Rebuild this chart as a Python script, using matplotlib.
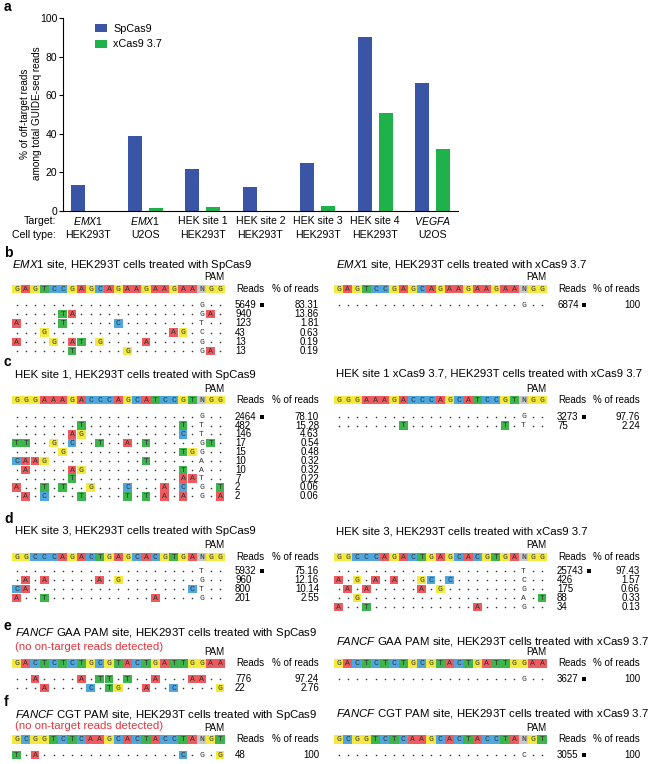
import numpy as np
import matplotlib
matplotlib.use("Agg")
from matplotlib import pyplot as plt
from matplotlib.patches import Rectangle
from matplotlib.transforms import blended_transform_factory

plt.rcParams['font.family'] = ['Liberation Sans', 'DejaVu Sans']
plt.rcParams['mathtext.fontset'] = 'custom'
plt.rcParams['mathtext.rm'] = 'Liberation Sans'
plt.rcParams['mathtext.it'] = 'Liberation Sans:italic'

# ---- panel a data ----
targets = ['$\\mathit{EMX1}$', '$\\mathit{EMX1}$', 'HEK site 1', 'HEK site 2',
           'HEK site 3', 'HEK site 4', '$\\mathit{VEGFA}$']
cell_types = ['HEK293T', 'U2OS', 'HEK293T', 'HEK293T', 'HEK293T', 'HEK293T', 'U2OS']
spcas9 = [13.5, 39.1, 21.8, 12.3, 24.7, 90.1, 66.4]
xcas9 = [0.0, 1.4, 2.1, 0.0, 2.4, 50.9, 32.0]

# ---- panels b-f data ('.' = match, lowercase = base shown without box) ----
emx1_ref = "GAGTCCGAGCAGAAGAAGAANGG"
emx1_sp_rows = ["....................g..",
                ".....TA.............gA.",
                "A....T.....C........t..",
                "...G.............AG.c..",
                "A...G.AT.G....A.....g..",
                "......T.....G.......gA."]
emx1_sp_reads = [5649, 940, 123, 43, 13, 13]
emx1_sp_pct = ['83.31', '13.86', '1.81', '0.63', '0.19', '0.19']
emx1_x_rows = ["....................g.."]
emx1_x_reads = [6874]
emx1_x_pct = ['100']

hek1_ref = "GGGAAAGACCCAGCATCCGTNGG"
hek1_sp_rows = ["....................g..",
                ".......T..........T.t..",
                "......AG..........C.t..",
                "TT..G.C..T..A.T.....gT.",
                ".....G............TGg..",
                "CAAG..........T.....a..",
                ".A....AG..........T.a..",
                "......T...........AAt..",
                "A..T.T..G...C...A.C.g.T",
                ".A.C...T....T.T.A.A.g.A"]
hek1_sp_reads = [2464, 482, 146, 17, 15, 10, 10, 7, 2, 2]
hek1_sp_pct = ['78.10', '15.28', '4.63', '0.54', '0.48', '0.32', '0.32', '0.22', '0.06', '0.06']
hek1_x_rows = ["....................g..",
               ".......T..........T.t.."]
hek1_x_reads = [3273, 75]
hek1_x_pct = ['97.76', '2.24']

hek3_ref = "GGCCCAGACTGAGCACGTGANGG"
hek3_sp_rows = ["....................t..",
                ".A.A.....A.G........g..",
                "CA.................Ct..",
                "A..T...........A....g.."]
hek3_sp_reads = [5932, 960, 800, 201]
hek3_sp_pct = ['75.16', '12.16', '10.14', '2.55']
hek3_x_rows = ["....................t..",
               "A.G.A.A..GC.C.......c..",
               ".A.A.....A.G........g..",
               "..G.................a.T",
               "A..T...........A....g.."]
hek3_x_reads = [25743, 426, 175, 88, 34]
hek3_x_pct = ['97.43', '1.57', '0.66', '0.33', '0.13']

fgaa_ref = "GACTCTCTGCGTACTGATTGGAA"
fgaa_sp_rows = ["..A....A.TT.T..A...AA..",
                "...A....C.TG..A..C....G"]
fgaa_sp_reads = [776, 22]
fgaa_sp_pct = ['97.24', '2.76']
fgaa_x_rows = ["....................g.."]
fgaa_x_reads = [3627]
fgaa_x_pct = ['100']

fcgt_ref = "GCGGTCTCAAGCACTACCTANGT"
fcgt_sp_rows = ["T.A...............C.g.G"]
fcgt_sp_reads = [48]
fcgt_sp_pct = ['100']
fcgt_x_rows = ["....................c.."]
fcgt_x_reads = [3055]
fcgt_x_pct = ['100']

base_colors = {'A': '#ef5a5f', 'C': '#4fa7df', 'G': '#f4ea3e', 'T': '#3cb54b', 'N': '#c8c8c8'}
red_note = '#e8343e'

W, H = 654, 764
fig = plt.figure(figsize=(W / 100, H / 100), dpi=100)

# ---- panel a ----
ax = fig.add_axes([63.4 / W, 1 - 211 / H, (458.4 - 63.4) / W, (211 - 18.3) / H])
x = np.arange(len(spcas9))
b1 = ax.bar(x - 0.183, spcas9, width=0.245, color='#3a55a6', label='SpCas9')
b2 = ax.bar(x + 0.183, xcas9, width=0.245, color='#1fb24a', label='xCas9 3.7')
ax.set_xlim(-0.43, 6.45)
ax.set_ylim(0, 100)
ax.set_yticks([0, 20, 40, 60, 80, 100])
ax.set_xticks([])
ax.spines['top'].set_visible(False)
ax.spines['right'].set_visible(False)
ax.spines['left'].set_linewidth(0.8)
ax.spines['bottom'].set_linewidth(0.8)
ax.tick_params(axis='y', labelsize=7.5, length=3, width=0.8, pad=1.5)
ax.legend(handles=[b1, b2], loc='upper left', bbox_to_anchor=(95 / W, 1 - 24 / H),
          bbox_transform=fig.transFigure, frameon=False, fontsize=7.8,
          handlelength=1.1, handleheight=0.75, handletextpad=0.6,
          labelspacing=0.5, borderpad=0, borderaxespad=0)
tr = blended_transform_factory(ax.transData, ax.transAxes)
for i in range(len(targets)):
    ax.text(i, -0.0535, targets[i], transform=tr, ha='center', va='center', fontsize=7.6)
    ax.text(i, -0.1245, cell_types[i], transform=tr, ha='center', va='center', fontsize=7.6)

# overlay in pixel units for text and alignments
ov = fig.add_axes([0, 0, 1, 1])
ov.set_xlim(0, W)
ov.set_ylim(H, 0)
ov.axis('off')

ov.text(55.8, 221.3, 'Target:', ha='right', va='center', fontsize=7.6)
ov.text(55.8, 235, 'Cell type:', ha='right', va='center', fontsize=7.6)
ov.text(31, 113.5, '% of off-target reads\namong total GUIDE-seq reads', rotation=90,
        ha='center', va='center', fontsize=7.2, multialignment='center', linespacing=1.2)

for letter, ly in zip('abcdef', [7, 253, 362, 519, 626, 702]):
    ov.text(4, ly, letter, fontsize=10, fontweight='bold', ha='left', va='center')

col_w = 9.25
mono = 'Liberation Mono'


def draw_alignment(x0, ref_y, row_y, step, ref, rows, reads, pct, on_target, num_x, pct_x):
    xs = x0 + np.arange(len(ref)) * col_w
    for xb, b in zip(xs, ref):
        ov.add_patch(Rectangle((xb - col_w / 2, ref_y - 4.4), col_w, 8.8,
                               facecolor=base_colors[b], edgecolor='none'))
        ov.text(xb, ref_y + 0.3, b, family=mono, fontsize=5.9, color='#333333',
                ha='center', va='center')
    ov.text(xs[21] + 4, ref_y - 11.5, 'PAM', fontsize=7, ha='center', va='center')
    ov.text(num_x + 1, ref_y, 'Reads', fontsize=7, ha='left', va='center')
    ov.text(pct_x, ref_y, '% of reads', fontsize=7, ha='right', va='center')
    for i, row in enumerate(rows):
        y = row_y + i * step
        dx = [xb for xb, b in zip(xs, row) if b == '.']
        ov.scatter(dx, [y] * len(dx), s=1.3, color='#333333', linewidths=0)
        for xb, b in zip(xs, row):
            if b == '.':
                continue
            if b.isupper():
                ov.add_patch(Rectangle((xb - col_w / 2 + 0.2, y - 4.2), col_w - 0.4, 8.4,
                                       facecolor=base_colors[b], edgecolor='none'))
            ov.text(xb, y + 0.3, b.upper(), family=mono, fontsize=5.9, color='#333333',
                    ha='center', va='center')
        ov.text(num_x, y, str(reads[i]), fontsize=7, ha='left', va='center')
        if on_target and i == 0:
            ov.scatter([num_x + 5.3 * len(str(reads[i])) + 5.5], [y], s=11, marker='s',
                       color='black', linewidths=0)
        ov.text(pct_x, y, pct[i], fontsize=7, ha='right', va='center')


def title(tx, ty, s):
    ov.text(tx, ty, s, fontsize=8.2, ha='left', va='center')


LX, RX = 16.5, 338.5
LN, LP = 235, 319
RN, RP = 557, 640

# b
title(12, 264.5, '$\\mathit{EMX1}$ site, HEK293T cells treated with SpCas9')
title(336, 264.5, '$\\mathit{EMX1}$ site, HEK293T cells treated with xCas9 3.7')
draw_alignment(LX, 289, 305, 9.2, emx1_ref, emx1_sp_rows, emx1_sp_reads, emx1_sp_pct, True, LN, LP)
draw_alignment(RX, 289, 305, 9.2, emx1_ref, emx1_x_rows, emx1_x_reads, emx1_x_pct, True, RN, RP)

# c
title(15, 374.5, 'HEK site 1, HEK293T cells treated with SpCas9')
title(336, 373.5, 'HEK site 1 xCas9 3.7, HEK293T cells treated with xCas9 3.7')
draw_alignment(LX, 400, 416.7, 8.85, hek1_ref, hek1_sp_rows, hek1_sp_reads, hek1_sp_pct, True, LN, LP)
draw_alignment(RX, 400, 416.7, 8.85, hek1_ref, hek1_x_rows, hek1_x_reads, hek1_x_pct, True, RN, RP)

# d
title(15, 531.5, 'HEK site 3, HEK293T cells treated with SpCas9')
title(336, 531.5, 'HEK site 3, HEK293T cells treated with xCas9 3.7')
draw_alignment(LX, 557, 571, 9.0, hek3_ref, hek3_sp_rows, hek3_sp_reads, hek3_sp_pct, True, LN, LP)
draw_alignment(RX, 557, 571, 9.0, hek3_ref, hek3_x_rows, hek3_x_reads, hek3_x_pct, True, RN, RP)

# e
title(15, 633, '$\\mathit{FANCF}$ GAA PAM site, HEK293T cells treated with SpCas9')
ov.text(15, 646.5, '(no on-target reads detected)', fontsize=8.2, color=red_note, ha='left', va='center')
title(336, 641, '$\\mathit{FANCF}$ GAA PAM site, HEK293T cells treated with xCas9 3.7')
draw_alignment(LX, 663.5, 679.3, 9.0, fgaa_ref, fgaa_sp_rows, fgaa_sp_reads, fgaa_sp_pct, False, LN, LP)
draw_alignment(RX, 663.5, 679.3, 9.0, fgaa_ref, fgaa_x_rows, fgaa_x_reads, fgaa_x_pct, True, RN, RP)

# f
title(15, 714.5, '$\\mathit{FANCF}$ CGT PAM site, HEK293T cells treated with SpCas9')
ov.text(15, 726, '(no on-target reads detected)', fontsize=8.2, color=red_note, ha='left', va='center')
title(336, 714, '$\\mathit{FANCF}$ CGT PAM site, HEK293T cells treated with xCas9 3.7')
draw_alignment(LX, 739.5, 755, 9.0, fcgt_ref, fcgt_sp_rows, fcgt_sp_reads, fcgt_sp_pct, False, LN, LP)
draw_alignment(RX, 739.5, 755, 9.0, fcgt_ref, fcgt_x_rows, fcgt_x_reads, fcgt_x_pct, True, RN, RP)

fig.savefig('out.png', dpi=100)
